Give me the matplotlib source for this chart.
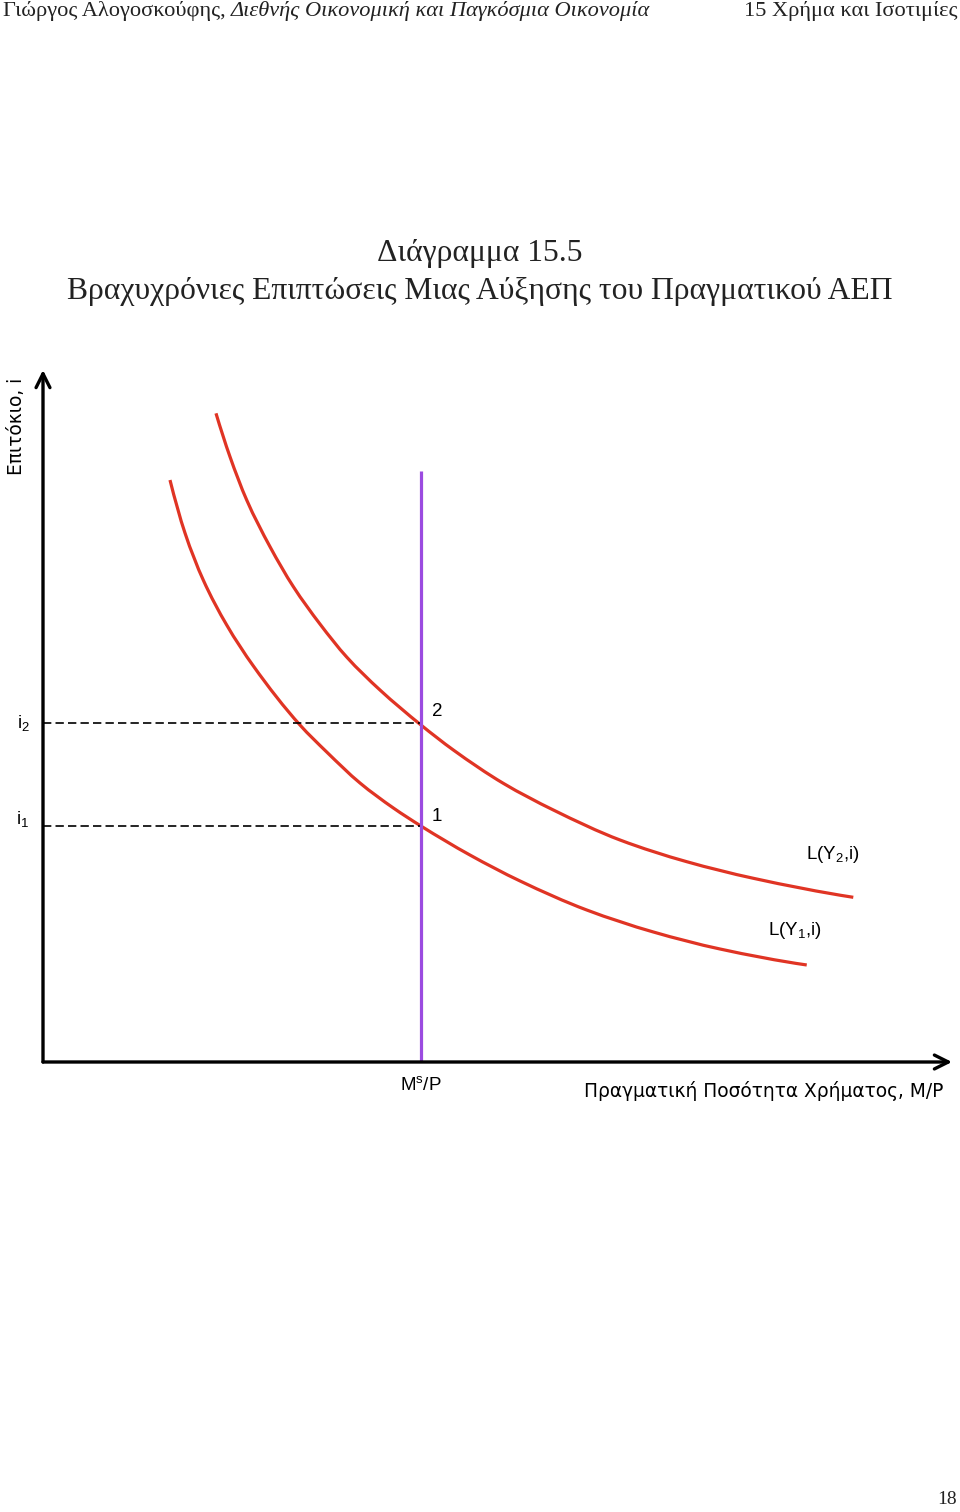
import matplotlib
matplotlib.use("Agg")
import matplotlib.pyplot as plt
import numpy as np
from matplotlib.path import Path
from matplotlib.patches import PathPatch

# ---- data ----
ms_supply = 4.158          # M^s/P
ms_top = 8.54              # top of the money-supply line
i1 = 3.41
i2 = 4.90

curve_y1_x = [1.397, 1.562, 1.763, 2.021, 2.314, 2.827, 3.121, 3.487, 3.854,
              4.158, 4.697, 5.248, 5.981, 6.714, 7.448, 8.402]
curve_y1_i = [8.410, 7.645, 6.965, 6.315, 5.723, 4.870, 4.480, 4.032, 3.671,
              3.410, 2.991, 2.616, 2.197, 1.879, 1.633, 1.402]

curve_y2_x = [1.903, 2.057, 2.241, 2.497, 2.754, 3.047, 3.341, 3.707, 4.158,
              4.514, 5.064, 5.614, 6.348, 7.081, 7.814, 8.914]
curve_y2_i = [9.374, 8.747, 8.121, 7.447, 6.869, 6.329, 5.852, 5.376, 4.870,
              4.509, 4.027, 3.642, 3.208, 2.895, 2.655, 2.380]

header_left_a = "Γιώργος Αλογοσκούφης, "
header_left_b = "Διεθνής Οικονομική και Παγκόσμια Οικονομία"
header_right = "15 Χρήμα και Ισοτιμίες"
title_1 = "Διάγραμμα 15.5"
title_2 = "Βραχυχρόνιες Επιπτώσεις Μιας Αύξησης του Πραγματικού ΑΕΠ"
xlabel = "Πραγματική Ποσότητα Χρήματος, M/P"
ylabel = "Επιτόκιο, i"
page_no = "18"

RED = "#e03424"
PURPLE = "#9b4be0"


def smooth_path(xs, ys):
    """Monotone (PCHIP-style) cubic through the read points, as Beziers."""
    x = np.asarray(xs, float)
    y = np.asarray(ys, float)
    h = np.diff(x)
    d = np.diff(y) / h
    n = len(x)
    m = np.zeros(n)
    for k in range(1, n - 1):
        if d[k - 1] * d[k] > 0:
            w1 = 2 * h[k] + h[k - 1]
            w2 = h[k] + 2 * h[k - 1]
            m[k] = (w1 + w2) / (w1 / d[k - 1] + w2 / d[k])
    m[0] = ((2 * h[0] + h[1]) * d[0] - h[0] * d[1]) / (h[0] + h[1])
    m[-1] = ((2 * h[-1] + h[-2]) * d[-1] - h[-1] * d[-2]) / (h[-1] + h[-2])
    verts = [(x[0], y[0])]
    codes = [Path.MOVETO]
    for k in range(n - 1):
        verts += [(x[k] + h[k] / 3, y[k] + m[k] * h[k] / 3),
                  (x[k + 1] - h[k] / 3, y[k + 1] - m[k + 1] * h[k] / 3),
                  (x[k + 1], y[k + 1])]
        codes += [Path.CURVE4] * 3
    return Path(verts, codes)


W, H = 960, 1512
fig = plt.figure(figsize=(W / 100, H / 100), dpi=100)
fig.patch.set_facecolor("white")

serif = "Liberation Serif"
hfs = 16.1
t = fig.text(3 / W, 1 - 11 / H, header_left_a, family=serif, fontsize=hfs,
             ha="left", va="center", color="#222222")
fig.canvas.draw()
bb = t.get_window_extent()
fig.text(bb.x1 / W, 1 - 11 / H, header_left_b, family=serif, style="italic",
         fontsize=hfs, ha="left", va="center", color="#222222")
fig.text(957 / W, 1 - 11 / H, header_right, family=serif, fontsize=hfs,
         ha="right", va="center", color="#222222")

fig.text(480 / W, 1 - 253 / H, title_1, family=serif, fontsize=22.8,
         ha="center", va="center", color="#222222")
fig.text(480 / W, 1 - 291 / H, title_2, family=serif, fontsize=22.8,
         ha="center", va="center", color="#222222")

fig.text(957 / W, 1 - 1500 / H, page_no, family=serif, fontsize=14,
         ha="right", va="center", color="#222222")

# diagram axes: origin at px (43,1062), x tip 952, y tip 370
ax = fig.add_axes([43 / W, (H - 1062) / H, 909 / W, 692 / H])
ax.set_xlim(0, 10)
ax.set_ylim(0, 10)
ax.set_axis_off()

for tip in [(1.0, 0), (0, 1.0)]:
    ax.annotate("", xy=tip, xytext=(0, 0), xycoords="axes fraction",
                arrowprops=dict(arrowstyle="->,head_length=1.0,head_width=0.5",
                                lw=2.4, color="black", shrinkA=0, shrinkB=0))

ax.plot([0, ms_supply], [i2, i2], color="black", lw=1.2, ls=(0, (5, 2.5)))
ax.plot([0, ms_supply], [i1, i1], color="black", lw=1.2, ls=(0, (5, 2.5)))

for xs, ys in [(curve_y1_x, curve_y1_i), (curve_y2_x, curve_y2_i)]:
    ax.add_patch(PathPatch(smooth_path(xs, ys), facecolor="none",
                           edgecolor=RED, lw=2.3, capstyle="butt"))

ax.plot([ms_supply, ms_supply], [0, ms_top], color=PURPLE, lw=2.3,
        solid_capstyle="butt")

sans = "Liberation Sans"
fs = 13.5
ax.text(ms_supply + 0.12, i2 + 0.17, "2", family=sans, fontsize=fs,
        ha="left", va="center")
ax.text(ms_supply + 0.12, i1 + 0.14, "1", family=sans, fontsize=fs,
        ha="left", va="center")
ax.text(-0.22, i2, r"$\mathregular{i_2}$", family=sans, fontsize=fs,
        ha="center", va="center")
ax.text(-0.22, i1 + 0.1, r"$\mathregular{i_1}$", family=sans, fontsize=fs,
        ha="center", va="center")
ax.text(8.69, 3.0, r"$\mathregular{L(Y_2{,}i)}$", family=sans, fontsize=fs,
        ha="center", va="center")
ax.text(8.27, 1.9, r"$\mathregular{L(Y_1{,}i)}$", family=sans, fontsize=fs,
        ha="center", va="center")
ax.text(ms_supply, -0.33, r"$\mathregular{M^s/P}$", family=sans,
        fontsize=fs, ha="center", va="center")
ax.text(9.9, -0.42, xlabel, family="DejaVu Sans", fontsize=13.4,
        ha="right", va="center")
fig.text(17 / W, 1 - 378 / H, ylabel, family="DejaVu Sans", fontsize=13.4,
         rotation=90, ha="center", va="top")

fig.savefig("out.png", dpi=100, facecolor="white")
